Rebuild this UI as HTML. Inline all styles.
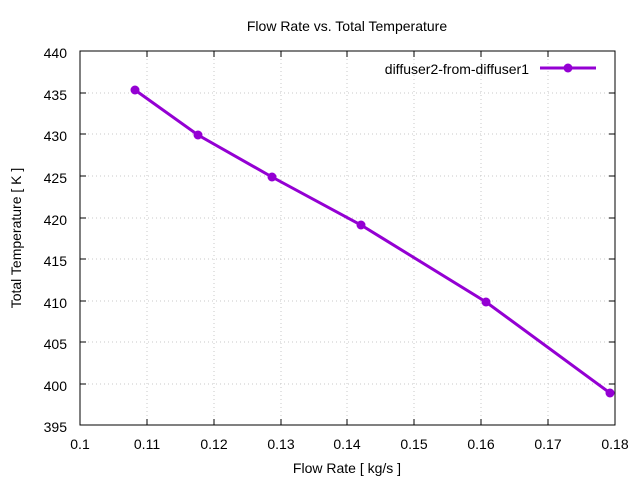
<!DOCTYPE html>
<html><head><style>body{margin:0;background:#fff}svg{display:block}text{font-family:"Liberation Sans",sans-serif;font-size:14px;fill:#000}</style></head>
<body>
<svg width="640" height="480" xmlns="http://www.w3.org/2000/svg">
<rect width="640" height="480" fill="#fff"/>
<g stroke="#c8c8c8" stroke-dasharray="1,3" stroke-width="1">
<line x1="147" y1="51" x2="147" y2="425"/><line x1="214" y1="51" x2="214" y2="425"/><line x1="281" y1="51" x2="281" y2="425"/><line x1="347" y1="51" x2="347" y2="425"/><line x1="414" y1="51" x2="414" y2="425"/><line x1="481" y1="51" x2="481" y2="425"/><line x1="548" y1="51" x2="548" y2="425"/>
<line x1="80" y1="93" x2="615" y2="93"/><line x1="80" y1="134" x2="615" y2="134"/><line x1="80" y1="176" x2="615" y2="176"/><line x1="80" y1="218" x2="615" y2="218"/><line x1="80" y1="259" x2="615" y2="259"/><line x1="80" y1="301" x2="615" y2="301"/><line x1="80" y1="342" x2="615" y2="342"/><line x1="80" y1="384" x2="615" y2="384"/>
</g>
<rect x="80" y="51" width="535" height="374" fill="none" stroke="#000" stroke-width="1"/>
<g stroke="#000">
<path d="M147 425v-6M214 425v-6M281 425v-6M347 425v-6M414 425v-6M481 425v-6M548 425v-6M147 51v6M214 51v6M281 51v6M347 51v6M414 51v6M481 51v6M548 51v6"/>
<path d="M80 93h6M80 134h6M80 176h6M80 218h6M80 259h6M80 301h6M80 342h6M80 384h6M615 93h-6M615 134h-6M615 176h-6M615 218h-6M615 259h-6M615 301h-6M615 342h-6M615 384h-6"/>
</g>
<g text-anchor="end">
<text x="67" y="58">440</text><text x="67" y="100">435</text><text x="67" y="141">430</text><text x="67" y="183">425</text><text x="67" y="225">420</text><text x="67" y="266">415</text><text x="67" y="308">410</text><text x="67" y="349">405</text><text x="67" y="391">400</text><text x="67" y="432">395</text>
</g>
<g text-anchor="middle">
<text x="80" y="449">0.1</text><text x="147" y="449">0.11</text><text x="214" y="449">0.12</text><text x="281" y="449">0.13</text><text x="347" y="449">0.14</text><text x="414" y="449">0.15</text><text x="481" y="449">0.16</text><text x="548" y="449">0.17</text><text x="615" y="449">0.18</text>
<text x="347" y="473">Flow Rate [ kg/s ]</text>
<text x="347" y="31">Flow Rate vs. Total Temperature</text>
<text transform="translate(21,238) rotate(-90)">Total Temperature [ K ]</text>
</g>
<text x="529" y="74" text-anchor="end">diffuser2-from-diffuser1</text>
<g stroke="#9400d3" stroke-width="3" fill="none">
<line x1="540" y1="68" x2="596" y2="68"/>
<polyline points="135,90 198,135 272,177 361,225 486,302 610,393"/>
</g>
<g fill="#9400d3">
<circle cx="568" cy="68" r="4.5"/>
<circle cx="135" cy="90" r="4.5"/><circle cx="198" cy="135" r="4.5"/><circle cx="272" cy="177" r="4.5"/><circle cx="361" cy="225" r="4.5"/><circle cx="486" cy="302" r="4.5"/><circle cx="610" cy="393" r="4.5"/>
</g>
</svg>
</body></html>
